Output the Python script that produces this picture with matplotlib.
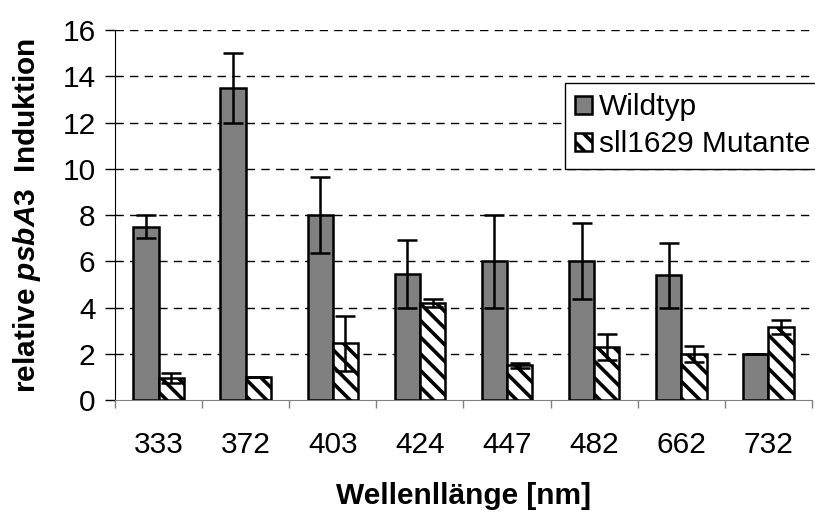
import numpy as np
import matplotlib.pyplot as plt

plt.rcParams['font.family'] = ['Liberation Sans', 'DejaVu Sans']
plt.rcParams['mathtext.fontset'] = 'custom'
plt.rcParams['mathtext.it'] = 'Liberation Sans:italic:bold'
plt.rcParams['mathtext.rm'] = 'Liberation Sans:bold'
plt.rcParams['hatch.linewidth'] = 2.6

# Wellenlaengen und Induktionswerte
wavelengths = ['333', '372', '403', '424', '447', '482', '662', '732']
wildtyp = [7.5, 13.5, 8.0, 5.45, 6.0, 6.0, 5.4, 2.0]
wildtyp_err = [0.5, 1.5, 1.65, 1.45, 2.0, 1.65, 1.4, 0.0]
mutante = [0.95, 1.0, 2.45, 4.2, 1.5, 2.3, 2.0, 3.15]
mutante_err = [0.2, 0.0, 1.2, 0.17, 0.1, 0.55, 0.35, 0.3]

fs = 21.5
x = np.arange(len(wavelengths))
w = 0.29

fig = plt.figure(figsize=(8.15, 5.12), dpi=100)
ax = fig.add_axes([0.1411, 0.21875, 0.8552, 0.72265])

ax.bar(x - w / 2, wildtyp, w, color='#808080', edgecolor='black',
       linewidth=1.8, zorder=3, label='Wildtyp')
ax.bar(x + w / 2, mutante, w, color='white', edgecolor='black',
       linewidth=1.8, hatch='\\\\', zorder=3, label='sll1629 Mutante')
ax.errorbar(x - w / 2, wildtyp, yerr=wildtyp_err, fmt='none', ecolor='black',
            elinewidth=1.8, capsize=7, capthick=1.8, zorder=4)
ax.errorbar(x + w / 2, mutante, yerr=mutante_err, fmt='none', ecolor='black',
            elinewidth=1.8, capsize=7, capthick=1.8, zorder=4)

ax.set_ylim(0, 16)
ax.set_yticks(np.arange(0, 17, 2))
ax.set_xlim(-0.5, len(wavelengths) - 0.5)
ax.set_xticks(np.arange(-0.5, len(wavelengths)))
ax.set_xticklabels([])
ax.set_xticks(x, minor=True)
ax.set_xticklabels(wavelengths, minor=True)
ax.tick_params(axis='x', which='minor', length=0, pad=22, labelsize=fs)
ax.tick_params(axis='x', which='major', length=6, width=1, color='#808080',
               direction='out')
ax.tick_params(axis='y', length=7, width=1, direction='out', pad=7,
               labelsize=fs)

for yv in range(2, 17, 2):
    ax.axhline(yv, color='black', linewidth=1, linestyle=(0, (6, 4.5)),
               zorder=1)

ax.spines['top'].set_visible(False)
ax.spines['right'].set_visible(False)
ax.spines['bottom'].set_color('#808080')
ax.spines['left'].set_color('black')

ax.set_ylabel(r'relative $\mathit{psbA3}$  Induktion', fontsize=fs,
              fontweight='bold', labelpad=14)
ax.set_xlabel('Wellenllänge [nm]', fontsize=fs, fontweight='bold',
              labelpad=17)

leg = ax.legend(loc='upper left', bbox_to_anchor=(0.693, 0.677, 0.35, 0.161),
                bbox_transform=fig.transFigure, mode='expand',
                borderaxespad=0, fontsize=fs, fancybox=False, framealpha=1,
                edgecolor='black', handlelength=0.55, handleheight=0.55,
                handletextpad=0.25, labelspacing=0.3, borderpad=0.35)
leg.get_frame().set_linewidth(1)
leg.set_zorder(5)

fig.savefig('out.png', dpi=100)
